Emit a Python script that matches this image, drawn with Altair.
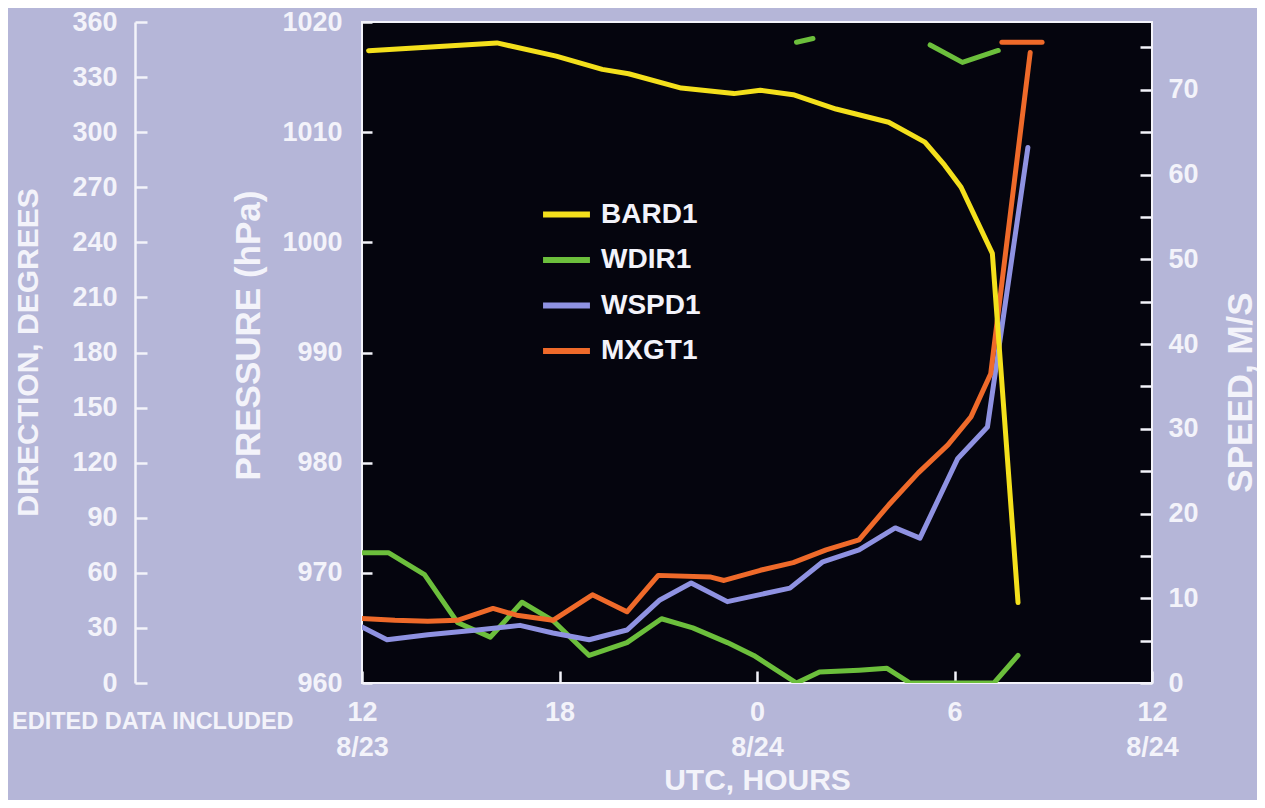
import altair as alt
import pandas as pd

# ---------------- data (time = hours after 12 UTC 8/23) ----------------
series_names = ["BARD1", "WDIR1", "WSPD1", "MXGT1"]
series_colors = ["#f4e01c", "#6cbf3c", "#8f92e2", "#ef6a2a"]

# BARD1 pressure (hPa)
bard_t = [0.2, 4.1, 5.9, 7.3, 8.1, 9.7, 11.3, 12.1, 13.1, 14.4, 16.0, 17.1, 17.7, 18.2, 19.15, 19.93]
bard_v = [1017.4, 1018.1, 1016.9, 1015.7, 1015.3, 1014.0, 1013.5, 1013.8, 1013.4, 1012.1, 1010.9,
          1009.1, 1007.0, 1005.0, 999.0, 967.3]

# WDIR1 direction (degrees); pieces drawn separately where the trace wraps past 0/360
wdir_a_t = [0.0, 0.8, 1.9, 2.9, 3.9, 4.86, 5.8, 6.9, 8.05, 9.1, 10.05, 11.1, 11.9, 13.2, 13.9, 15.1, 15.95, 16.65, 19.2, 19.93]
wdir_a_v = [71, 71, 59, 33, 25, 44, 34, 15, 22, 35, 30, 22, 15, 0, 6, 7, 8, 0, 0, 15]
wdir_b_t = [13.2, 13.7]
wdir_b_v = [349, 351]
wdir_c_t = [17.26, 18.24, 19.33]
wdir_c_v = [347.5, 338, 344.5]

# WSPD1 speed (m/s)
wspd_t = [0.0, 0.76, 2.0, 3.5, 4.8, 5.8, 6.9, 8.05, 9.05, 10.0, 11.1, 13.0, 14.0, 15.1, 16.2, 16.95, 18.1, 19.0, 20.23]
wspd_v = [6.6, 5.1, 5.7, 6.25, 6.8, 5.9, 5.1, 6.25, 9.8, 11.8, 9.6, 11.2, 14.3, 15.7, 18.3, 17.1, 26.5, 30.2, 63.2]

# MXGT1 max gust (m/s)
mxgt_t = [0.0, 1.0, 2.0, 2.9, 3.98, 4.7, 5.8, 7.0, 8.05, 9.0, 10.6, 11.0, 12.1, 13.1, 14.1, 15.1, 16.0, 16.9, 17.8, 18.5, 19.1, 20.3]
mxgt_v = [7.6, 7.4, 7.3, 7.4, 8.8, 8.0, 7.4, 10.4, 8.4, 12.7, 12.5, 12.1, 13.3, 14.2, 15.7, 16.9, 21.0, 24.8, 28.1, 31.4, 36.5, 74.4]
mxgt_top_t = [19.44, 20.66]
mxgt_top_v = [75.6, 75.6]

x_ticks = [0, 6, 12, 18, 24]
dir_ticks = list(range(0, 361, 30))
press_ticks = [960, 970, 980, 990, 1000, 1010, 1020]
speed_ticks = list(range(0, 76, 5))
note_text = ["EDITED DATA INCLUDED"]

# ---------------- tables ----------------
def frame(ts, vs, series, seg):
    return pd.DataFrame({"t": ts, "v": vs, "series": series, "seg": seg})

press_df = frame(bard_t, bard_v, "BARD1", "p")
dir_df = pd.concat([frame(wdir_a_t, wdir_a_v, "WDIR1", "a"),
                    frame(wdir_b_t, wdir_b_v, "WDIR1", "b"),
                    frame(wdir_c_t, wdir_c_v, "WDIR1", "c")])
speed_df = pd.concat([frame(wspd_t, wspd_v, "WSPD1", "w"),
                      frame(mxgt_t, mxgt_v, "MXGT1", "m1"),
                      frame(mxgt_top_t, mxgt_top_v, "MXGT1", "m2")])
note_df = pd.DataFrame({"note": note_text})

FONT = "Liberation Sans"
WHITE = "#f3f3fa"
W, H = 790, 661

x_enc = alt.X(
    "t:Q",
    scale=alt.Scale(domain=[0, 24], nice=False, zero=False),
    axis=alt.Axis(
        orient="top", offset=-H, values=x_ticks, tickSize=12, tickWidth=2.5,
        domain=False, grid=False,
        labelExpr="datum.value == 0 ? ['12', '8/23'] : datum.value == 6 ? '18' : datum.value == 12 ? ['0', '8/24'] : datum.value == 18 ? '6' : ['12', '8/24']",
        labelBaseline="top", labelPadding=-28, labelLineHeight=35, labelFlush=False,
        labelOverlap=False, labelBound=False,
        title="UTC, HOURS", titleX=395, titleY=97, titleBaseline="middle",
        titleFontSize=30,
    ),
    title="UTC, HOURS",
)

color_enc = alt.Color(
    "series:N",
    scale=alt.Scale(domain=series_names, range=series_colors),
    legend=alt.Legend(
        orient="none", legendX=178, legendY=166, title="", symbolType="stroke",
        symbolSize=2200, symbolStrokeWidth=6, labelFontSize=28, labelFont=FONT,
        labelFontWeight="bold", labelColor=WHITE, labelOffset=8, rowPadding=4.5,
        padding=0,
    ),
)

line_kw = dict(strokeWidth=5, strokeCap="round", strokeJoin="round", clip=True)

press_layer = alt.Chart(press_df).mark_line(**line_kw).encode(
    x=x_enc,
    y=alt.Y("v:Q", scale=alt.Scale(domain=[960, 1020], nice=False, zero=False),
            axis=alt.Axis(orient="right", offset=-W, values=press_ticks, tickSize=10,
                          format="d",
                          labelAlign="right", labelPadding=-30, labelFlush=False,
                          domain=False, grid=False,
                          title="PRESSURE (hPa)", titleAngle=270, titleX=-114, titleY=313,
                          titleBaseline="middle", titleFontSize=35)),
    color=color_enc,
    detail="seg:N",
)

dir_layer = alt.Chart(dir_df).mark_line(**line_kw).encode(
    x=x_enc,
    y=alt.Y("v:Q", scale=alt.Scale(domain=[0, 360], nice=False, zero=False),
            axis=alt.Axis(orient="right", offset=-1017, values=dir_ticks, tickSize=12,
                          labelAlign="right", labelPadding=-30, labelFlush=False,
                          domain=True, domainWidth=2.5, grid=False,
                          title="DIRECTION, DEGREES", titleAngle=270, titleX=-107, titleY=330,
                          titleBaseline="middle", titleFontSize=30)),
    color=color_enc,
    detail="seg:N",
)

speed_layer = alt.Chart(speed_df).mark_line(**line_kw).encode(
    x=x_enc,
    y=alt.Y("v:Q", scale=alt.Scale(domain=[0, 78], nice=False, zero=False),
            axis=alt.Axis(orient="left", offset=-W, values=speed_ticks, tickSize=12,
                          labelExpr="datum.value % 10 == 0 ? datum.label : ''",
                          labelAlign="left", labelPadding=-28, labelFlush=False,
                          domain=False, grid=False,
                          title="SPEED, M/S", titleAngle=270, titleX=88, titleY=370,
                          titleBaseline="middle", titleFontSize=35)),
    color=color_enc,
    detail="seg:N",
)

note_layer = alt.Chart(note_df).mark_text(
    align="left", baseline="middle", font=FONT, fontSize=23.5, fontWeight="bold", color=WHITE
).encode(x=alt.value(-350), y=alt.value(700), text="note:N")

chart = alt.layer(dir_layer, speed_layer, press_layer, note_layer).resolve_scale(
    y="independent"
).properties(
    width=W, height=H,
    autosize=alt.AutoSizeParams(type="none"),
    padding={"left": 354, "top": 14, "right": 105, "bottom": 117},
    background="#b5b6d8",
).configure_view(
    fill="#05050e", stroke=WHITE, strokeWidth=2,
).configure_axis(
    labelFont=FONT, labelFontSize=27, labelFontWeight="bold", labelColor=WHITE,
    titleFont=FONT, titleFontSize=30, titleFontWeight="bold", titleColor=WHITE,
    tickColor=WHITE, tickWidth=2.5, domainColor=WHITE,
)

chart.save("out.html", embed_options={"renderer": "svg", "actions": False})
